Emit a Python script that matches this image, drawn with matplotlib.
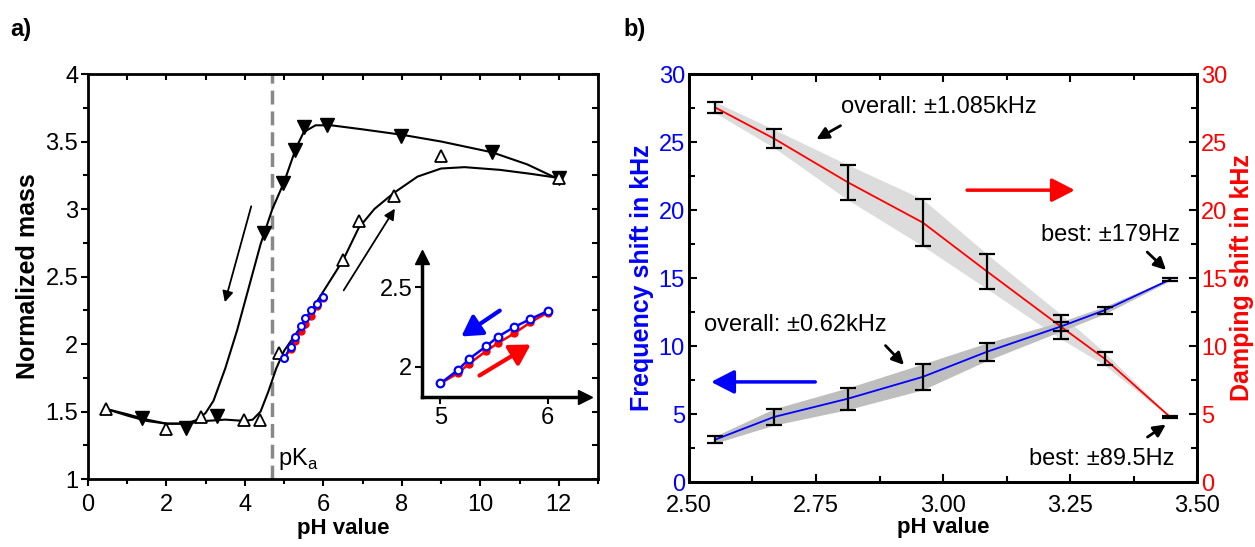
import matplotlib
matplotlib.use("Agg")
import matplotlib.pyplot as plt
import numpy as np
from matplotlib.ticker import MultipleLocator, FormatStrFormatter

plt.rcParams['font.family'] = ['Liberation Sans', 'DejaVu Sans']

# ---- panel a) data ----
# filled down triangles (pH decreasing)
down_ph = [1.38, 2.5, 3.3, 4.48, 4.97, 5.27, 5.5, 6.09, 7.98, 10.3, 12.0]
down_mass = [1.45, 1.375, 1.47, 2.82, 3.19, 3.44, 3.61, 3.62, 3.54, 3.42, 3.23]
# open up triangles (pH increasing)
up_ph = [0.45, 1.98, 2.89, 3.98, 4.39, 4.88, 6.5, 6.9, 7.79, 9.0, 12.0]
up_mass = [1.52, 1.37, 1.46, 1.44, 1.44, 1.93, 2.62, 2.91, 3.10, 3.39, 3.23]

# guide curves
down_fit_ph = [0.45, 1.0, 1.5, 2.0, 2.5, 2.8, 3.0, 3.2, 3.5, 3.8, 4.1, 4.4, 4.7,
               5.0, 5.3, 5.5, 5.8, 6.2, 7.0, 8.0, 9.0, 10.3, 11.2, 12.0]
down_fit_mass = [1.52, 1.48, 1.44, 1.41, 1.41, 1.44, 1.49, 1.58, 1.82, 2.1, 2.42, 2.74, 3.0,
                 3.2, 3.45, 3.57, 3.62, 3.62, 3.59, 3.55, 3.5, 3.42, 3.33, 3.22]
up_fit_ph = [0.45, 1.0, 1.5, 2.0, 2.5, 3.0, 3.5, 4.0, 4.2, 4.4, 4.6, 4.8, 5.0, 5.5,
             6.0, 6.5, 6.9, 7.3, 7.8, 8.4, 9.0, 9.6, 10.5, 11.3, 12.0]
up_fit_mass = [1.52, 1.47, 1.43, 1.41, 1.41, 1.43, 1.44, 1.43, 1.44, 1.50, 1.65, 1.82, 1.95, 2.16,
               2.39, 2.62, 2.86, 3.00, 3.12, 3.24, 3.30, 3.31, 3.29, 3.26, 3.23]

# fine steps 5..6 (inset)
fine_ph = [5.0, 5.165, 5.27, 5.43, 5.54, 5.69, 5.84, 6.0]
fine_blue = [1.895, 1.98, 2.05, 2.13, 2.19, 2.25, 2.30, 2.35]
fine_red = [1.895, 1.96, 2.02, 2.10, 2.15, 2.21, 2.28, 2.34]

pka = 4.7

# ---- panel b) data ----
ph_b = [2.551, 2.667, 2.813, 2.96, 3.086, 3.233, 3.318, 3.447]
freq = [3.11, 4.78, 6.13, 7.73, 9.57, 11.45, 12.63, 14.89]
freq_err = [0.26, 0.6, 0.8, 0.95, 0.65, 0.35, 0.27, 0.09]
damp = [27.55, 25.26, 22.03, 19.08, 15.5, 11.4, 9.07, 4.78]
damp_err = [0.4, 0.67, 1.29, 1.72, 1.28, 0.9, 0.47, 0.05]

TICK_FS = 17
XLABEL_FS = 16
YLABEL_FS = 18

fig = plt.figure(figsize=(12.55, 5.47), dpi=100)

# ================= panel a =================
ax1 = fig.add_axes([0.0701, 0.1243, 0.4064, 0.7404])
ax1.plot(down_fit_ph, down_fit_mass, color='k', lw=1.5)
ax1.plot(up_fit_ph, up_fit_mass, color='k', lw=1.5)
ax1.plot(down_ph, down_mass, 'v', color='k', ms=9.5, ls='none')
ax1.plot(up_ph, up_mass, '^', mfc='white', mec='k', mew=1.3, ms=8.5, ls='none')
ax1.plot(fine_ph, fine_red, 'o-', color='red', mfc='red', ms=5, lw=1.5)
ax1.plot(fine_ph, fine_blue, 'o-', color='blue', mfc='white', mec='blue', mew=1.5, ms=5, lw=1.5)
ax1.axvline(pka, color='#888888', ls=(0, (4, 2)), lw=2.5, zorder=0)
ax1.text(pka + 0.15, 1.15, 'pK$_\\mathregular{a}$', fontsize=TICK_FS, va='center')

ax1.annotate('', xy=(3.47, 2.29), xytext=(4.18, 3.04),
             arrowprops=dict(arrowstyle='-|>', color='k', lw=1.3, mutation_scale=16))
ax1.annotate('', xy=(7.86, 3.02), xytext=(6.48, 2.38),
             arrowprops=dict(arrowstyle='-|>', color='k', lw=1.3, mutation_scale=16))

ax1.set_xlim(0, 13)
ax1.set_ylim(1, 4)
ax1.xaxis.set_major_locator(MultipleLocator(2))
ax1.xaxis.set_minor_locator(MultipleLocator(1))
ax1.yaxis.set_major_locator(MultipleLocator(0.5))
ax1.yaxis.set_minor_locator(MultipleLocator(0.25))
ax1.yaxis.set_major_formatter(FormatStrFormatter('%g'))
ax1.tick_params(which='both', direction='out', width=1.5, labelsize=TICK_FS, pad=2)
ax1.tick_params(axis='x', which='both', pad=6)
ax1.tick_params(which='major', length=5)
ax1.tick_params(which='minor', length=3.5)
for s in ax1.spines.values():
    s.set_linewidth(2)
sx = ax1.secondary_xaxis('top')
sx.xaxis.set_major_locator(MultipleLocator(1))
sx.tick_params(which='both', direction='in', length=4, width=1.5, labeltop=False)
sy = ax1.secondary_yaxis('right')
sy.yaxis.set_major_locator(MultipleLocator(0.25))
sy.tick_params(which='both', direction='in', length=4, width=1.5, labelright=False)
ax1.set_xlabel('pH value', fontsize=XLABEL_FS, fontweight='bold', labelpad=1)
ax1.set_ylabel('Normalized mass', fontsize=YLABEL_FS, fontweight='bold', labelpad=4)

# inset
axi = fig.add_axes([0.3363, 0.2742, 0.1299, 0.2559])
axi.patch.set_alpha(0)
axi.plot(fine_ph, fine_red, 'o-', color='red', mfc='red', ms=5, lw=1.8)
axi.plot(fine_ph, fine_blue, 'o-', color='blue', mfc='white', mec='blue', mew=1.6, ms=5.5, lw=1.8)
axi.annotate('', xy=(5.175, 2.181), xytext=(5.576, 2.363),
             arrowprops=dict(arrowstyle='-|>,head_length=0.6,head_width=0.35', color='blue',
                             lw=3, mutation_scale=20))
axi.annotate('', xy=(5.865, 2.149), xytext=(5.343, 1.936),
             arrowprops=dict(arrowstyle='-|>,head_length=0.6,head_width=0.35', color='red',
                             lw=3, mutation_scale=20))
axi.set_xlim(4.83, 6.35)
axi.set_ylim(1.81, 2.69)
axi.set_xticks([5, 6])
axi.set_yticks([2, 2.5])
axi.yaxis.set_major_formatter(FormatStrFormatter('%g'))
axi.tick_params(direction='out', length=5, width=1.5, labelsize=TICK_FS, pad=2)
for side in ['top', 'right']:
    axi.spines[side].set_visible(False)
for side in ['left', 'bottom']:
    axi.spines[side].set_linewidth(2.5)
axi.plot(1, 0, '>', color='k', ms=10, transform=axi.transAxes, clip_on=False)
axi.plot(0, 1, '^', color='k', ms=10, transform=axi.transAxes, clip_on=False)

# ================= panel b =================
ax2 = fig.add_axes([0.549, 0.1188, 0.4048, 0.7459])
lo_f = np.array(freq) - np.array(freq_err)
hi_f = np.array(freq) + np.array(freq_err)
lo_d = np.array(damp) - np.array(damp_err)
hi_d = np.array(damp) + np.array(damp_err)
ax2.fill_between(ph_b, lo_d, hi_d, color='#dcdcdc', lw=0, zorder=1)
ax2.fill_between(ph_b, lo_f, hi_f, color='#bebebe', lw=0, zorder=1)
ax2.plot(ph_b, damp, color='red', lw=1.3, zorder=3)
ax2.plot(ph_b, freq, color='blue', lw=1.3, zorder=3)
ax2.errorbar(ph_b, damp, yerr=damp_err, fmt='none', ecolor='k', elinewidth=1.6,
             capsize=6, capthick=1.6, zorder=4)
ax2.errorbar(ph_b, freq, yerr=freq_err, fmt='none', ecolor='k', elinewidth=1.6,
             capsize=6, capthick=1.6, zorder=4)

ax2.set_xlim(2.5, 3.5)
ax2.set_ylim(0, 30)
ax2.set_xticks([2.5, 2.75, 3.0, 3.25, 3.5])
ax2.xaxis.set_major_formatter(FormatStrFormatter('%.2f'))
ax2.xaxis.set_minor_locator(MultipleLocator(0.125))
ax2.yaxis.set_major_locator(MultipleLocator(5))
ax2.yaxis.set_minor_locator(MultipleLocator(2.5))
ax2.tick_params(which='both', direction='in', top=True, width=1.5, labelsize=TICK_FS, pad=3)
ax2.tick_params(axis='x', which='both', pad=9)
ax2.tick_params(which='major', length=6)
ax2.tick_params(which='minor', length=4)
ax2.tick_params(axis='y', labelcolor='blue')
for s in ax2.spines.values():
    s.set_linewidth(2)
ax2.set_xlabel('pH value', fontsize=XLABEL_FS, fontweight='bold', labelpad=0)
ax2.set_ylabel('Frequency shift in kHz', fontsize=YLABEL_FS, fontweight='bold', color='blue', labelpad=3)

ax2r = ax2.twinx()
ax2r.set_ylim(0, 30)
ax2r.yaxis.set_major_locator(MultipleLocator(5))
ax2r.yaxis.set_minor_locator(MultipleLocator(2.5))
ax2r.tick_params(which='both', direction='in', width=1.5, labelsize=TICK_FS, labelcolor='red', pad=3)
ax2r.tick_params(which='major', length=6)
ax2r.tick_params(which='minor', length=4)
ax2r.set_ylabel('Damping shift in kHz', fontsize=YLABEL_FS, fontweight='bold', color='red', labelpad=2)
for s in ax2r.spines.values():
    s.set_linewidth(2)

txt_fs = 17
ax2.text(2.80, 27.55, 'overall: \u00b11.085kHz', fontsize=txt_fs, va='center')
ax2.annotate('', xy=(2.746, 25.1), xytext=(2.803, 26.3),
             arrowprops=dict(arrowstyle='-|>', color='k', lw=2, mutation_scale=18))
ax2.text(3.193, 18.15, 'best: \u00b1179Hz', fontsize=txt_fs, va='center')
ax2.annotate('', xy=(3.443, 15.45), xytext=(3.398, 17.05),
             arrowprops=dict(arrowstyle='-|>', color='k', lw=2, mutation_scale=18))
ax2.text(2.53, 11.53, 'overall: \u00b10.62kHz', fontsize=txt_fs, va='center')
ax2.annotate('', xy=(2.927, 8.46), xytext=(2.883, 10.18),
             arrowprops=dict(arrowstyle='-|>', color='k', lw=2, mutation_scale=18))
ax2.text(3.169, 1.72, 'best: \u00b189.5Hz', fontsize=txt_fs, va='center')
ax2.annotate('', xy=(3.443, 4.34), xytext=(3.398, 3.19),
             arrowprops=dict(arrowstyle='-|>', color='k', lw=2, mutation_scale=18))

ax2.annotate('', xy=(3.265, 21.46), xytext=(3.042, 21.46),
             arrowprops=dict(arrowstyle='-|>,head_length=0.7,head_width=0.36', color='red',
                             lw=2.5, mutation_scale=20))
ax2.annotate('', xy=(2.538, 7.36), xytext=(2.754, 7.36),
             arrowprops=dict(arrowstyle='-|>,head_length=0.7,head_width=0.36', color='blue',
                             lw=2.5, mutation_scale=20))

fig.text(0.008, 0.946, 'a)', fontsize=17, fontweight='bold', va='center')
fig.text(0.497, 0.946, 'b)', fontsize=17, fontweight='bold', va='center')

fig.savefig('out.png', dpi=100)
